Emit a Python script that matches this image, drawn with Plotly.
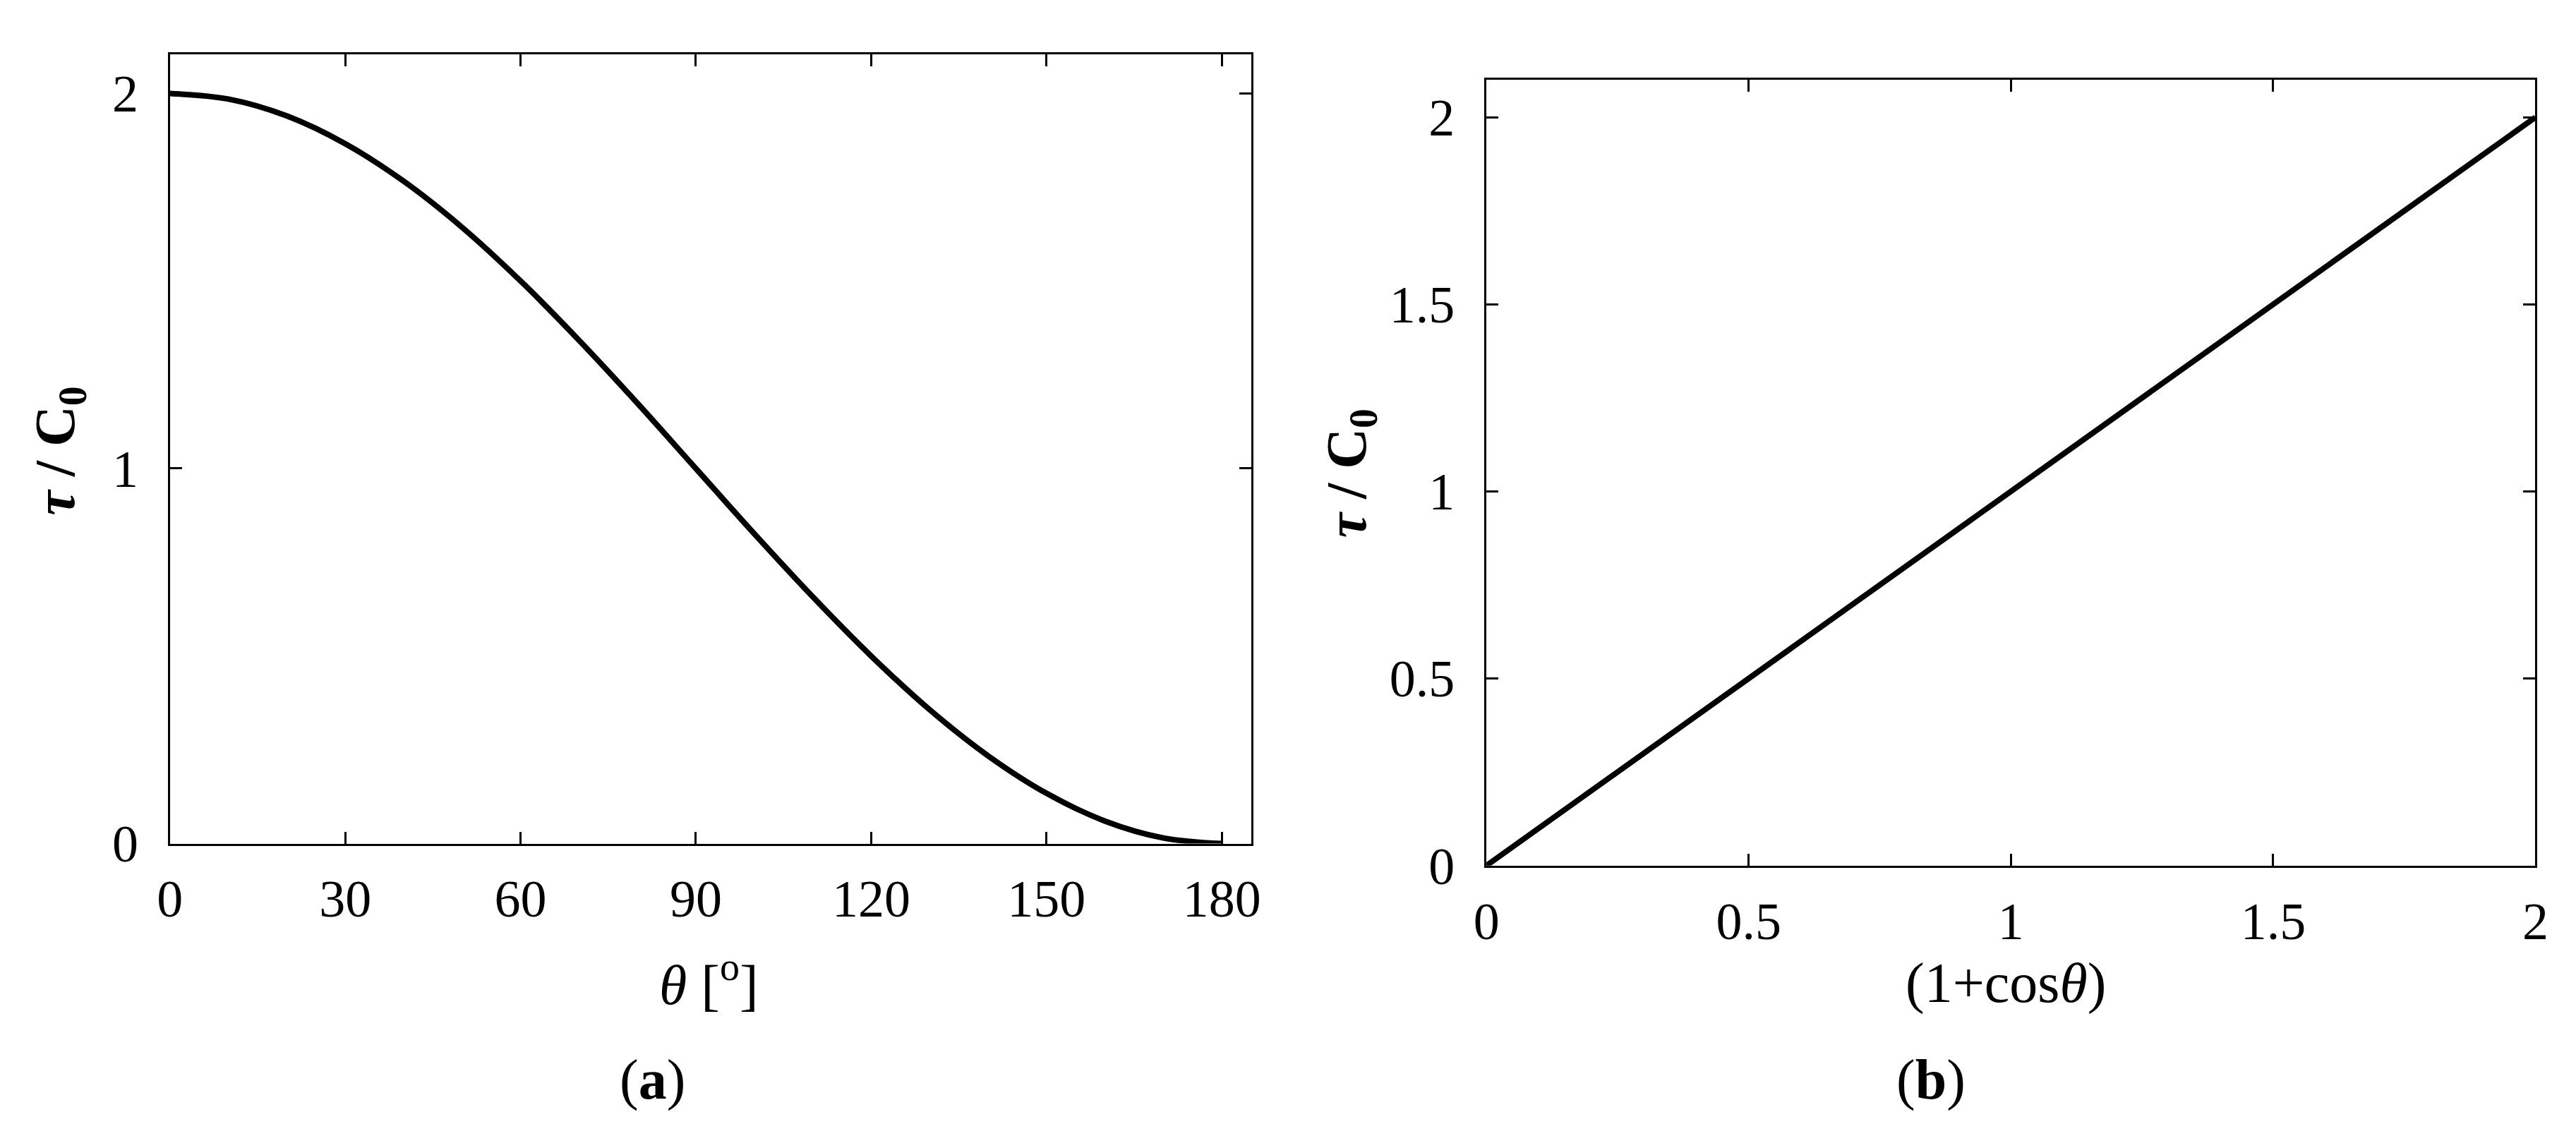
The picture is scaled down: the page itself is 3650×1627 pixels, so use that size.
import plotly.graph_objects as go
from plotly.subplots import make_subplots

# panel (a): tau / C0 against theta in degrees
theta_deg = [0, 10, 20, 30, 40, 50, 60, 70, 80, 90,
             100, 110, 120, 130, 140, 150, 160, 170, 180]
tau_a = [2.0, 1.985, 1.94, 1.866, 1.766, 1.643, 1.5, 1.342, 1.174, 1.0,
         0.826, 0.658, 0.5, 0.357, 0.234, 0.134, 0.06, 0.015, 0.0]

# panel (b): tau / C0 against (1 + cos theta)
one_plus_cos = [0.0, 2.0]
tau_b = [0.0, 2.0]

xticks_a = [0, 30, 60, 90, 120, 150, 180]
yticks_a = [0, 1, 2]
xticks_b = [0, 0.5, 1, 1.5, 2]
yticks_b = [0, 0.5, 1, 1.5, 2]
ticktext_b = ["0", "0.5", "1", "1.5", "2"]

W, H = 3650, 1627
FONT = "Liberation Serif"


def px_x(p):
    return p / W


def px_y(p):
    return 1 - p / H


fig = make_subplots(rows=1, cols=2)

fig.add_trace(
    go.Scatter(x=theta_deg, y=tau_a, mode="lines", line_shape="spline",
               line=dict(color="black", width=8), showlegend=False),
    row=1, col=1,
)
fig.add_trace(
    go.Scatter(x=one_plus_cos, y=tau_b, mode="lines",
               line=dict(color="black", width=8), showlegend=False),
    row=1, col=2,
)

axis_style = dict(
    showline=True, linecolor="black", linewidth=3, mirror="ticks",
    ticks="inside", ticklen=17, tickwidth=2.5, tickcolor="black",
    showgrid=False, zeroline=False,
    tickfont=dict(family=FONT, size=74, color="black"),
)

fig.update_xaxes(axis_style)
fig.update_yaxes(axis_style)

fig.update_layout(
    xaxis=dict(domain=[px_x(216), px_x(1764)], range=[0, 185],
               tickvals=xticks_a, ticklabelstandoff=12),
    yaxis=dict(domain=[px_y(1219), px_y(71)], range=[0, 2.104],
               tickvals=yticks_a, ticklabelstandoff=27),
    xaxis2=dict(domain=[px_x(2101), px_x(3603)], range=[0, 2],
                tickvals=xticks_b, ticktext=ticktext_b,
                ticklabelstandoff=12),
    yaxis2=dict(domain=[px_y(1251), px_y(108)], range=[0, 2.1],
                tickvals=yticks_b, ticktext=ticktext_b,
                ticklabelstandoff=27),
)

title_font = dict(family=FONT, size=80, color="black")
ytitle = "<b><i>τ</i> / C<sub>0</sub></b>"
notes = [
    (ytitle, 58, 647, -90),
    (ytitle, 1907, 680, -90),
    ("<i>θ</i> [<sup>o</sup>]", 988, 1418, 0),
    ("(1+cos<i>θ</i>)", 2845, 1422, 0),
    ("(<b>a</b>)", 907, 1563, 0),
    ("(<b>b</b>)", 2738, 1563, 0),
]
for text, x, y, angle in notes:
    fig.add_annotation(
        text=text, xref="paper", yref="paper", x=px_x(x), y=px_y(y),
        xanchor="center", yanchor="middle", showarrow=False,
        textangle=angle, font=title_font,
    )

fig.update_layout(
    width=W, height=H,
    margin=dict(l=0, r=0, t=0, b=0),
    paper_bgcolor="white", plot_bgcolor="white",
)

fig.write_html("out.html")
